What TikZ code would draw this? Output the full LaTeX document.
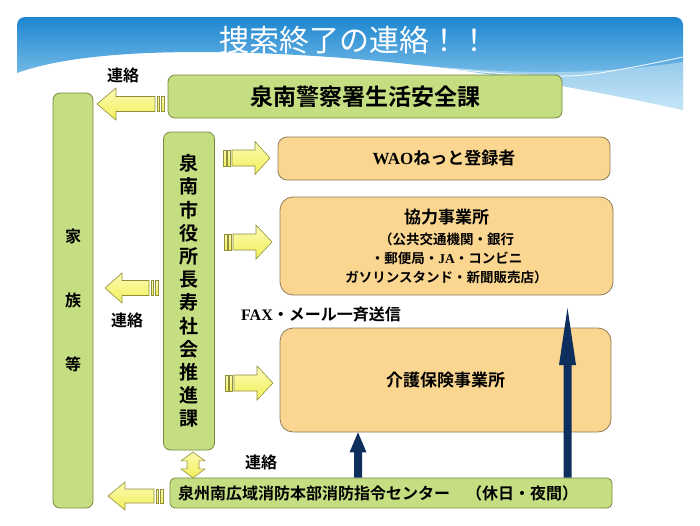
\documentclass[tikz,border=0pt]{standalone}
\usepackage{fontspec}
\usetikzlibrary{calc}
\setmainfont{Noto Sans CJK JP}[BoldFont={Noto Sans CJK JP Bold}]
\newfontfamily\latf{Liberation Serif}
\definecolor{bannertop}{HTML}{1E86D0}
\definecolor{bannerbot}{HTML}{A8DAF4}
\definecolor{gfill}{HTML}{C6DE82}
\definecolor{gborder}{HTML}{76883E}
\definecolor{ofill}{HTML}{FAD690}
\definecolor{oborder}{HTML}{8E7B58}
\definecolor{ytop}{HTML}{FBFBB4}
\definecolor{ybot}{HTML}{F2F05A}
\definecolor{yborder}{HTML}{8F8F3C}
\definecolor{navyc}{HTML}{0E2E5E}
\newcommand\StripeR[6]{%
  \path[yarrow] (#1,{#3-#5}) rectangle ({#1+3},{#3+#5});
  \path[yarrow] ({#1+4.5},{#3-#5}) rectangle ({#1+7},{#3+#5});
  \path[yarrow] ({#1+9},{#3-#5}) -- ({#2-#6},{#3-#5}) -- ({#2-#6},{#3-#4}) -- (#2,#3)
     -- ({#2-#6},{#3+#4}) -- ({#2-#6},{#3+#5}) -- ({#1+9},{#3+#5}) -- cycle;}
\newcommand\StripeL[6]{%
  \path[yarrow] (#1,{#3-#5}) rectangle ({#1-3},{#3+#5});
  \path[yarrow] ({#1-4.5},{#3-#5}) rectangle ({#1-7},{#3+#5});
  \path[yarrow] ({#1-9},{#3-#5}) -- ({#2+#6},{#3-#5}) -- ({#2+#6},{#3-#4}) -- (#2,#3)
     -- ({#2+#6},{#3+#4}) -- ({#2+#6},{#3+#5}) -- ({#1-9},{#3+#5}) -- cycle;}
\begin{document}
\begin{tikzpicture}[x=1pt,y=-1pt,
  greenbox/.style={draw=gborder, fill=gfill, rounded corners=7pt, line width=0.8pt, inner sep=0pt, align=center},
  orangebox/.style={draw=oborder, fill=ofill, rounded corners=13pt, line width=0.8pt, inner sep=0pt, align=center},
  yarrow/.style={draw=yborder, line width=0.6pt, top color=ytop, bottom color=ybot},
  navyarrow/.style={fill=navyc},
  lbl/.style={font=\fontsize{16}{16}\selectfont\bfseries, inner sep=0pt}]
\useasboundingbox (0,0) rectangle (700,525);
% banner
\shade[top color=bannertop, bottom color=bannerbot]
  (17,73) -- (17,25) arc[start angle=180,end angle=270,radius=8] -- (675,17)
  arc[start angle=270,end angle=360,radius=8] -- (683,110)
  .. controls (600,92) and (480,68) .. (330,57)
  .. controls (200,48) and (80,50) .. (17,73) -- cycle;
\fill[white,opacity=0.35] (380,62) .. controls (480,70) and (560,80) .. (683,62) -- (683,110)
  .. controls (600,92) and (480,68) .. (380,62) -- cycle;
\draw[white,opacity=0.8,line width=1pt] (420,66) .. controls (500,74) and (560,80) .. (600,73)
  .. controls (640,66) .. (683,57);
\node[text=white, font=\fontsize{30}{30}\selectfont, inner sep=0pt] (title) at (354,40) {捜索終了の連絡！！};
% boxes
\node[greenbox, minimum width=394pt, minimum height=43pt, font=\fontsize{23}{23}\selectfont\bfseries] (police) at (365,96.5) {泉南警察署生活安全課};
\node[greenbox, minimum width=40pt, minimum height=415pt, font=\fontsize{16}{64}\selectfont\bfseries] (family) at (73,300.5) {家\\族\\等};
\node[greenbox, minimum width=51pt, minimum height=318pt, font=\fontsize{19}{23.2}\selectfont\bfseries] (city) at (189,291) {泉\\南\\市\\役\\所\\長\\寿\\社\\会\\推\\進\\課};
\node[orangebox, rounded corners=9pt, minimum width=332pt, minimum height=43pt, font=\fontsize{17}{17}\selectfont\bfseries] (wao) at (444,158.5) {{\latf\bfseries WAO}ねっと登録者};
\node[orangebox, minimum width=333pt, minimum height=98pt, font=\fontsize{13.5}{19}\selectfont\bfseries] (kyo) at (446.5,246)
  {{\fontsize{17}{17}\selectfont 協力事業所}\\[2pt]（公共交通機関・銀行\\・郵便局・{\latf\bfseries JA}・コンビニ\\ガソリンスタンド・新聞販売店）};
\node[orangebox, minimum width=331pt, minimum height=104pt, font=\fontsize{17}{17}\selectfont\bfseries] (kaigo) at (445.5,380) {介護保険事業所};
\node[greenbox, rounded corners=5pt, align=left, text width=426pt, inner xsep=8pt, minimum height=30pt, font=\fontsize{16}{16}\selectfont\bfseries] (fire) at (391,493) {泉州南広域消防本部消防指令センター　（休日・夜間）};
% labels
\node[lbl] (l1) at (123,75) {連絡};
\node[lbl] (l2) at (127,320) {連絡};
\node[lbl] (l3) at (261,462) {連絡};
\node[lbl] (fax) at (321,315) {{\latf\bfseries FAX}・メール一斉送信};
% yellow striped arrows
\StripeL{164}{97}{104}{16}{7.5}{19}
\StripeR{223}{270}{158}{16.5}{8}{15}
\StripeR{224}{272}{242}{17}{8}{16}
\StripeR{225}{273}{383}{17}{8}{16}
\StripeL{158}{105}{288}{15}{7.5}{17}
\StripeL{163}{108}{496}{14}{7}{17}
% double arrow city <-> fire
\coordinate (dx) at (193,0);
\path[yarrow] (dx |- city.south) ++(0,1.5) -- ++(12,9) -- ++(-6,0) -- ++(0,8) -- ++(6,0)
  -- ++(-12,9) -- ++(-12,-9) -- ++(6,0) -- ++(0,-8) -- ++(-6,0) -- cycle;
% navy arrows
\coordinate (a1) at (358,0);
\coordinate (a2) at (567.5,0);
\fill[navyarrow] ($(a1 |- fire.north)+(-4,0)$) -- ($(a1 |- kaigo.south)+(-4,20)$) -- ($(a1 |- kaigo.south)+(-8.5,20)$)
  -- (a1 |- kaigo.south) -- ($(a1 |- kaigo.south)+(8.5,20)$) -- ($(a1 |- kaigo.south)+(4,20)$) -- ($(a1 |- fire.north)+(4,0)$) -- cycle;
\coordinate (t2) at (567.5,308);
\fill[navyarrow] ($(a2 |- fire.north)+(-4,0)$) -- ($(t2)+(-4,57)$) -- ($(t2)+(-8.5,57)$)
  -- (t2) -- ($(t2)+(8.5,57)$) -- ($(t2)+(4,57)$) -- ($(a2 |- fire.north)+(4,0)$) -- cycle;
\end{tikzpicture}
\end{document}
